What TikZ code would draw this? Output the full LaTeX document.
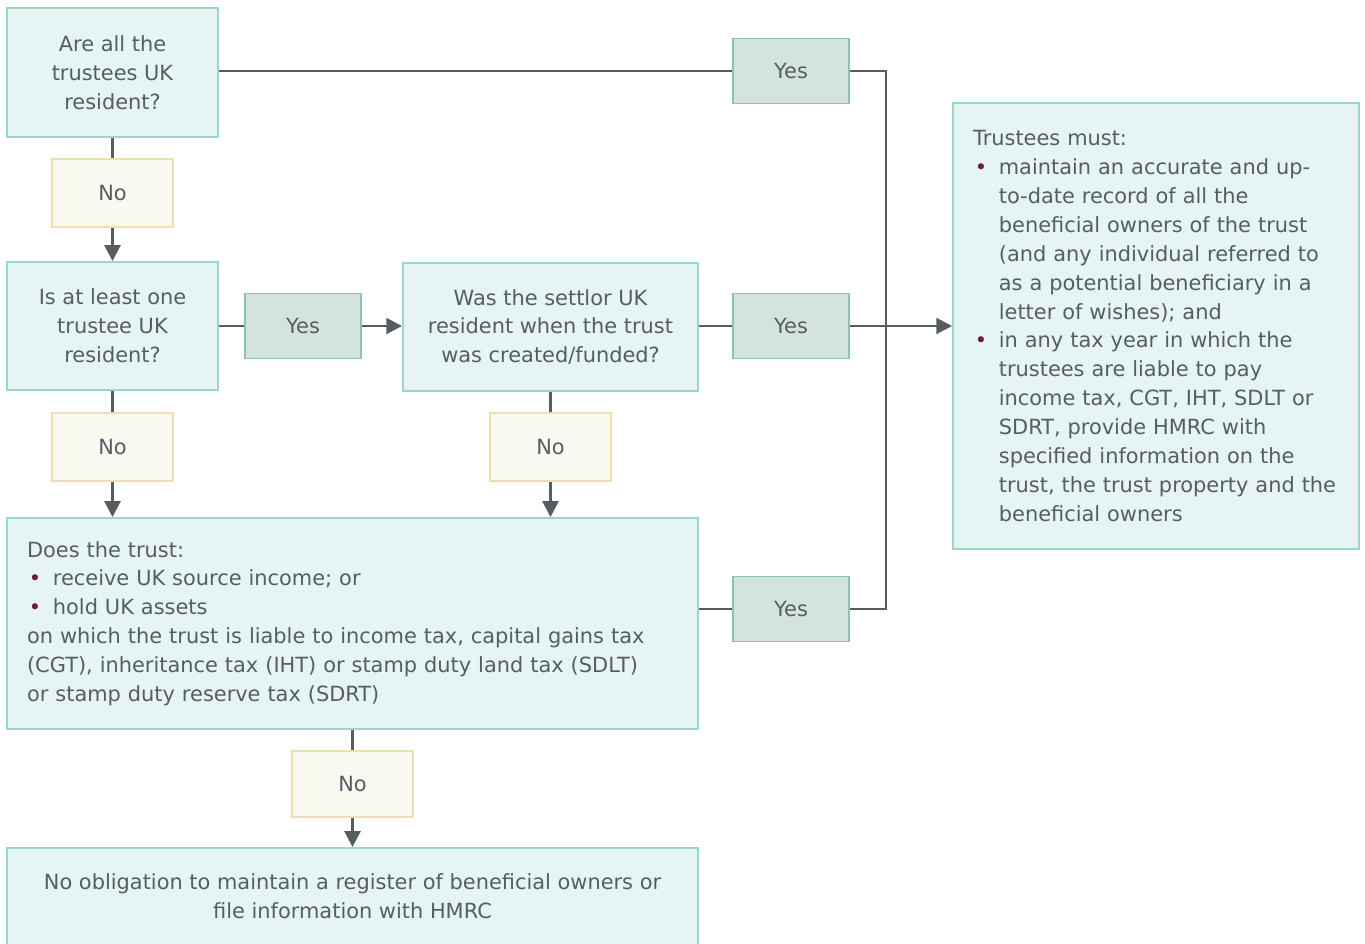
\documentclass[tikz,border=0pt]{standalone}
\usepackage{fontspec}
\setmainfont{DejaVu Sans}
\usetikzlibrary{arrows.meta}
\setlength{\parindent}{0pt}

\definecolor{boxfill}{HTML}{E6F4F3}
\definecolor{boxline}{HTML}{9AD5D0}
\definecolor{nofill}{HTML}{F9F9F2}
\definecolor{noline}{HTML}{EDE0AE}
\definecolor{yesfill}{HTML}{D4E3DE}
\definecolor{yesline}{HTML}{8DC2B5}
\definecolor{linecol}{HTML}{555D61}
\definecolor{txtcol}{HTML}{555E62}
\definecolor{bulcol}{HTML}{6A1C3A}

% bullet item with hanging indent
\newcommand{\bitem}[1]{{\hangindent=14.7pt\hangafter=1\noindent\makebox[14.7pt][l]{\hspace{1pt}\textcolor{bulcol}{\textbullet}}#1\par}}

\tikzset{
  basebox/.style={line width=1.1pt, text=txtcol, inner sep=0pt,
    font=\fontsize{11.9}{16.44}\selectfont},
  qbox/.style={basebox, draw=boxline, fill=boxfill, align=center},
  nobox/.style={basebox, draw=noline, fill=nofill,
    minimum width=2.42cm, minimum height=1.36cm},
  yesbox/.style={basebox, draw=yesline, fill=yesfill,
    minimum width=2.32cm, minimum height=1.30cm},
  conn/.style={draw=linecol, line width=1.6pt},
  arr/.style={conn, -{Triangle[length=9pt,width=9pt]}}
}

\begin{document}
\begin{tikzpicture}[x=0.02cm,y=-0.02cm]
  \useasboundingbox (0,0) rectangle (1365,943);

  % Question boxes
  \node[qbox, minimum width=4.22cm, minimum height=2.58cm] (allres) at (112.5,72.5)
    {Are all the\\trustees UK\\resident?};
  \node[qbox, minimum width=4.22cm, minimum height=2.56cm] (oneres) at (112.5,326)
    {Is at least one\\trustee UK\\resident?};
  \node[qbox, minimum width=5.9cm, minimum height=2.56cm] (settlor) at (550.5,327)
    {Was the settlor UK\\resident when the trust\\was created/funded?};
  \node[qbox, align=left, text width=13.02cm, inner xsep=0.4cm,
        minimum width=13.82cm, minimum height=4.22cm] (trust) at (352.5,623.5)
    {Does the trust:\par
     \bitem{receive UK source income; or}
     \bitem{hold UK assets}
     on which the trust is liable to income tax, capital gains tax\newline
     (CGT), inheritance tax (IHT) or stamp duty land tax (SDLT)\newline
     or stamp duty reserve tax (SDRT)};

  % Outcome boxes
  \node[qbox, minimum width=13.82cm, minimum height=1.94cm] (noobl) at (352.5,896.5)
    {No obligation to maintain a register of beneficial owners or\\
     file information with HMRC};
  \node[qbox, align=left, text width=7.32cm, inner xsep=0.4cm,
        minimum width=8.12cm, minimum height=8.92cm] (must) at (1156,326)
    {Trustees must:\par
     \bitem{maintain an accurate and up-\newline to-date record of all the\newline
       beneficial owners of the trust\newline (and any individual referred to\newline
       as a potential beneficiary in a\newline letter of wishes); and}
     \bitem{in any tax year in which the\newline trustees are liable to pay\newline
       income tax, CGT, IHT, SDLT or\newline SDRT, provide HMRC with\newline
       specified information on the\newline trust, the trust property and the\newline
       beneficial owners}};

  % No labels
  \node[nobox] (noa) at (112.5,193) {No};
  \node[nobox] (nob) at (112.5,447) {No};
  \node[nobox] (noc) at (550.5,447) {No};
  \node[nobox, minimum height=1.32cm] (nod) at (352.5,784) {No};

  % Yes labels
  \node[yesbox] (yesl) at (303,326) {Yes};
  \node[yesbox] (yest) at (791,71) {Yes};
  \node[yesbox] (yesm) at (791,326) {Yes};
  \node[yesbox] (yesb) at (791,609) {Yes};

  % Joining line on the right
  \coordinate (jx) at (886,0);

  % Connectors
  \draw[conn] (allres.south) -- (noa.north);
  \draw[arr] (noa.south) -- (oneres.north);
  \draw[conn] (oneres.east |- yesl.west) -- (yesl.west);
  \draw[arr] (yesl.east) -- (settlor.west |- yesl.east);
  \draw[conn] (oneres.south) -- (nob.north);
  \draw[arr] (nob.south) -- (nob.south |- trust.north);
  \draw[conn] (settlor.south) -- (noc.north);
  \draw[arr] (noc.south) -- (noc.south |- trust.north);
  \draw[conn] (trust.south -| nod) -- (nod.north);
  \draw[arr] (nod.south) -- (nod.south |- noobl.north);
  \draw[conn] (allres.east |- yest.west) -- (yest.west);
  \draw[conn] (settlor.east |- yesm.west) -- (yesm.west);
  \draw[conn] (trust.east |- yesb.west) -- (yesb.west);
  \draw[conn] (yest.east) -- (yest.east -| jx) -- (yesb.east -| jx) -- (yesb.east);
  \draw[arr] (yesm.east) -- (must.west |- yesm.east);
\end{tikzpicture}
\end{document}
